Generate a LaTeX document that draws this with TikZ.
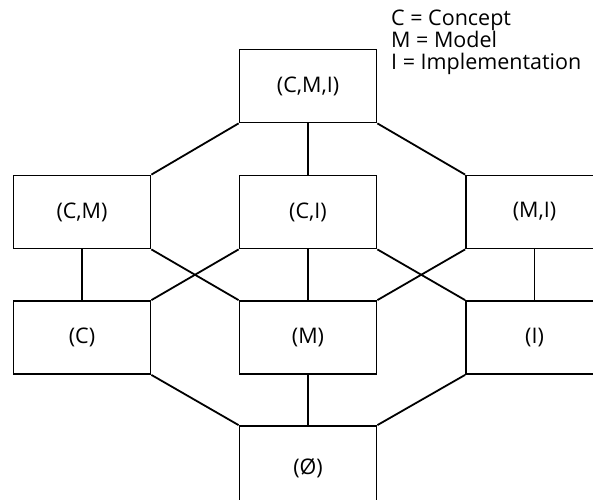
\documentclass[tikz,border=0pt]{standalone}
\usepackage{fontspec}
\setmainfont{Open Sans}
\begin{document}
\begin{tikzpicture}[x=1pt,y=-1pt,
  setbox/.style={draw,line width=1.8pt,minimum width=137pt,minimum height=73pt,
    inner sep=0pt,font=\fontsize{21.5}{22}\selectfont},
  link/.style={line width=1.8pt},
  legend/.style={anchor=north west,align=left,inner sep=0pt,
    font=\fontsize{21.5}{22}\selectfont}]
\useasboundingbox (0,0) rectangle (593,499);

% the lattice of subsets
\node[setbox] (cmi) at (308,86)    {(C,M,I)};
\node[setbox] (cm)  at (82,212)    {(C,M)};
\node[setbox] (ci)  at (308,212)   {(C,I)};
\node[setbox] (mi)  at (534.5,212) {(M,I)};
\node[setbox] (c)   at (82,337.5)  {(C)};
\node[setbox] (m)   at (308,337.5) {(M)};
\node[setbox] (i)   at (534.5,337.5) {(I)};
\node[setbox,minimum height=87pt] (e) at (308,469.5) {\raisebox{7pt}{(Ø)}};

% legend
\node[legend] (key) at (391,10) {C = Concept\\M = Model\\I = Implementation};

% edges between neighbouring levels
\draw[link] (cmi.south west) -- (cm.north east);
\draw[link] (cmi.south) -- (ci.north);
\draw[link] (cmi.south east) -- (mi.north west);

\draw[link] (cm.south) -- (c.north);
\draw[link] (cm.south east) -- (m.north west);
\draw[link] (ci.south west) -- (c.north east);
\draw[link] (ci.south) -- (m.north);
\draw[link] (ci.south east) -- (i.north west);
\draw[link] (mi.south west) -- (m.north east);
\draw[link] (mi.south) -- (i.north);

\draw[link] (c.south east) -- (e.north west);
\draw[link] (m.south) -- (e.north);
\draw[link] (i.south west) -- (e.north east);
\end{tikzpicture}
\end{document}
